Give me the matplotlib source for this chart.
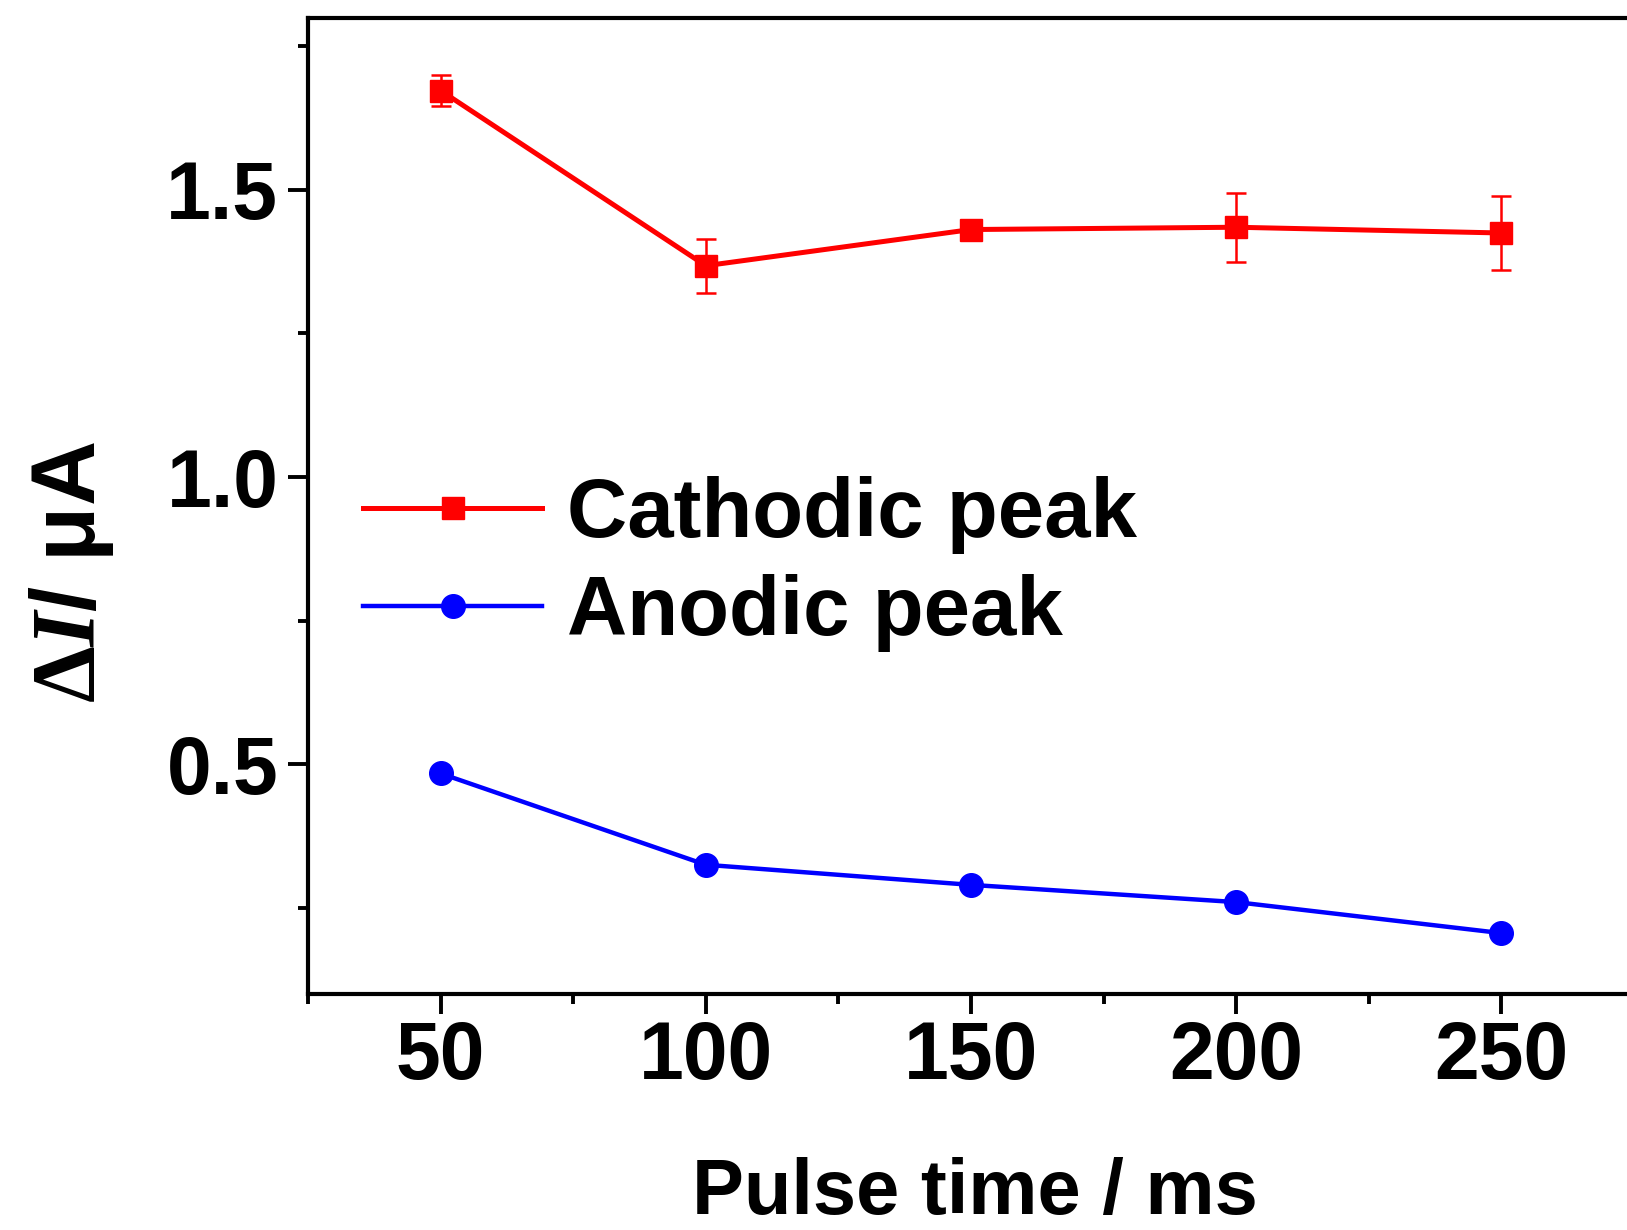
import matplotlib
matplotlib.use("Agg")
import matplotlib.pyplot as plt
from matplotlib.ticker import MultipleLocator

pulse_ms = [50, 100, 150, 200, 250]
cathodic = [1.673, 1.368, 1.431, 1.435, 1.425]
cathodic_err = [0.027, 0.047, 0.010, 0.060, 0.065]
anodic = [0.484, 0.325, 0.290, 0.260, 0.206]
anodic_err = [0.004, 0.005, 0.004, 0.008, 0.006]

plt.rcParams["font.family"] = ["Liberation Sans", "DejaVu Sans"]
plt.rcParams["font.weight"] = "bold"
plt.rcParams["mathtext.fontset"] = "custom"
plt.rcParams["mathtext.it"] = "Liberation Serif:italic:bold"
plt.rcParams["mathtext.rm"] = "Liberation Serif:bold"

W, H = 1627, 1230
fig = plt.figure(figsize=(W / 100, H / 100), dpi=100)
# right spine sits just past the figure edge
ax = fig.add_axes([308 / W, 1 - 994 / H, (1634 - 308) / W, (994 - 17.6) / H])

ax.errorbar(pulse_ms, cathodic, yerr=cathodic_err, color="#ff0000", lw=3.6,
            marker="s", ms=16, capsize=7.5, elinewidth=1.8, capthick=1.8,
            label="Cathodic peak")
ax.errorbar(pulse_ms, anodic, yerr=anodic_err, color="#0000ff", lw=3.2,
            marker="o", ms=17, capsize=7.0, elinewidth=1.8, capthick=1.8,
            label="Anodic peak")

ax.set_xlim(25, 275)
ax.set_ylim(0.1, 1.8)
ax.xaxis.set_major_locator(MultipleLocator(50))
ax.xaxis.set_minor_locator(MultipleLocator(25))
ax.yaxis.set_major_locator(MultipleLocator(0.5))
ax.yaxis.set_minor_locator(MultipleLocator(0.25))
ax.set_yticks([0.5, 1.0, 1.5])
ax.set_yticklabels(["0.5", "1.0", "1.5"])

for s in ax.spines.values():
    s.set_linewidth(3.0)
ax.tick_params(which="major", length=14.4, width=2.8, labelsize=58, direction="out")
ax.tick_params(which="minor", length=7, width=2.8, direction="out")
ax.tick_params(axis="x", pad=4)
ax.tick_params(axis="y", pad=7)

fig.text(975 / W, 1 - 1214 / H, "Pulse time / ms", fontsize=56,
         fontweight="bold", ha="center", va="baseline")
fig.text(72 / W, 1 - 572 / H, r"$\mathit{\Delta I}$/ μA", fontsize=65,
         fontweight="bold", rotation=90, ha="center", va="center")

handles, labels = ax.get_legend_handles_labels()
handles = [h[0] for h in handles]
fig.legend(handles, labels, loc="center left",
           bbox_to_anchor=(363 / W, 1 - 564 / H), frameon=False,
           fontsize=60, handlelength=2.15, handletextpad=0.3,
           labelspacing=0.24, borderpad=0, borderaxespad=0)

fig.savefig("out.png", dpi=100)
